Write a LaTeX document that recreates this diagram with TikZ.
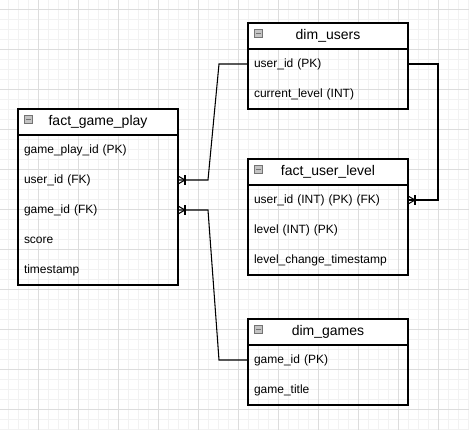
\documentclass[tikz,border=0pt]{standalone}
\usepackage{fontspec}
\setmainfont{Liberation Sans}
\usepackage{tikz}
\usetikzlibrary{positioning, calc, fit}
\definecolor{GridMajor}{HTML}{DDDDDD}
\definecolor{GridMinor}{HTML}{F2F2F2}
\definecolor{IconGrey}{HTML}{C4C4C4}

% crow's foot with bar, opening to the left of the given point
\newcommand{\manyside}[1]{%
  \draw[line width=0.8pt] ($(#1)+(0,-4)$) -- ($(#1)+(7,0)$) -- ($(#1)+(0,4)$);
  \draw[line width=0.8pt] ($(#1)+(7,-5)$) -- ($(#1)+(7,5)$);}

\begin{document}
\begin{tikzpicture}[x=0.75pt, y=-0.75pt, node distance=0pt]
    \tikzstyle{tabhead} = [rectangle, draw, fill=white, line width=0.8pt, minimum width=120pt, minimum height=19.5pt, inner sep=0pt, outer sep=0pt, font=\fontsize{10.5}{12}\selectfont]
    \tikzstyle{field} = [rectangle, minimum height=22.5pt, text width=111pt, inner xsep=4.5pt, inner ysep=0pt, outer sep=0pt, align=left, font=\fontsize{9}{11}\selectfont]
    \tikzstyle{tabframe} = [draw, line width=0.8pt, inner sep=0pt, outer sep=0pt]
    \tikzstyle{tabicon} = [rectangle, draw=black!55, fill=IconGrey, minimum size=6pt, inner sep=0pt, path picture={\draw[line width=0.6pt] ([xshift=1.2pt]path picture bounding box.west) -- ([xshift=-1.2pt]path picture bounding box.east);}]
    \tikzstyle{conn} = [draw, line width=0.8pt]

    % canvas and grid
    \useasboundingbox[fill=white] (0,0) rectangle (469,430);
    \foreach \gx in {8,18,...,468} \draw[GridMinor, line width=0.75pt] (\gx,0) -- (\gx,430);
    \foreach \gy in {9,19,...,429} \draw[GridMinor, line width=0.75pt] (0,\gy) -- (469,\gy);
    \foreach \gx in {38,78,...,438} \draw[GridMajor, line width=0.75pt] (\gx,0) -- (\gx,430);
    \foreach \gy in {9,49,...,409} \draw[GridMajor, line width=0.75pt] (0,\gy) -- (469,\gy);

    % fact_game_play
    \node [tabhead, anchor=north west] (gp) at (18,109) {fact\_game\_play};
    \node [field, below=of gp] (gpid) {game\_play\_id (PK)};
    \node [field, below=of gpid] (gpuser) {user\_id (FK)};
    \node [field, below=of gpuser] (gpgame) {game\_id (FK)};
    \node [field, below=of gpgame] (gpscore) {score};
    \node [field, below=of gpscore] (gptime) {timestamp};
    \node [tabframe, fit=(gp)(gptime)] (gpbox) {};
    \node [tabicon, anchor=north west] (gpicon) at ($(gp.north west)+(6,6)$) {};

    % dim_users
    \node [tabhead, anchor=north west] (du) at (248,23) {dim\_users};
    \node [field, below=of du] (duid) {user\_id (PK)};
    \node [field, below=of duid] (dulevel) {current\_level (INT)};
    \node [tabframe, fit=(du)(dulevel)] (dubox) {};
    \node [tabicon, anchor=north west] (duicon) at ($(du.north west)+(6,6)$) {};

    % fact_user_level
    \node [tabhead, anchor=north west] (ful) at (248,159) {fact\_user\_level};
    \node [field, below=of ful] (fulid) {user\_id (INT) (PK) (FK)};
    \node [field, below=of fulid] (fullevel) {level (INT) (PK)};
    \node [field, below=of fullevel] (fulstamp) {level\_change\_timestamp};
    \node [tabframe, fit=(ful)(fulstamp)] (fulbox) {};
    \node [tabicon, anchor=north west] (fulicon) at ($(ful.north west)+(6,6)$) {};

    % dim_games
    \node [tabhead, anchor=north west] (dg) at (248,319) {dim\_games};
    \node [field, below=of dg] (dgid) {game\_id (PK)};
    \node [field, below=of dgid] (dgtitle) {game\_title};
    \node [tabframe, fit=(dg)(dgtitle)] (dgbox) {};
    \node [tabicon, anchor=north west] (dgicon) at ($(dg.north west)+(6,6)$) {};

    % relations
    \path [conn] (gpuser.east) -- ++(30,0) -- ($(duid.west)+(-29,0)$) -- (duid.west);
    \path [conn] (gpgame.east) -- ++(30,0) -- ($(dgid.west)+(-29,0)$) -- (dgid.west);
    \path [conn] (duid.east) -- ++(30,0) |- (fulid.east);
    \manyside{gpuser.east}
    \manyside{gpgame.east}
    \manyside{fulid.east}
\end{tikzpicture}
\end{document}
